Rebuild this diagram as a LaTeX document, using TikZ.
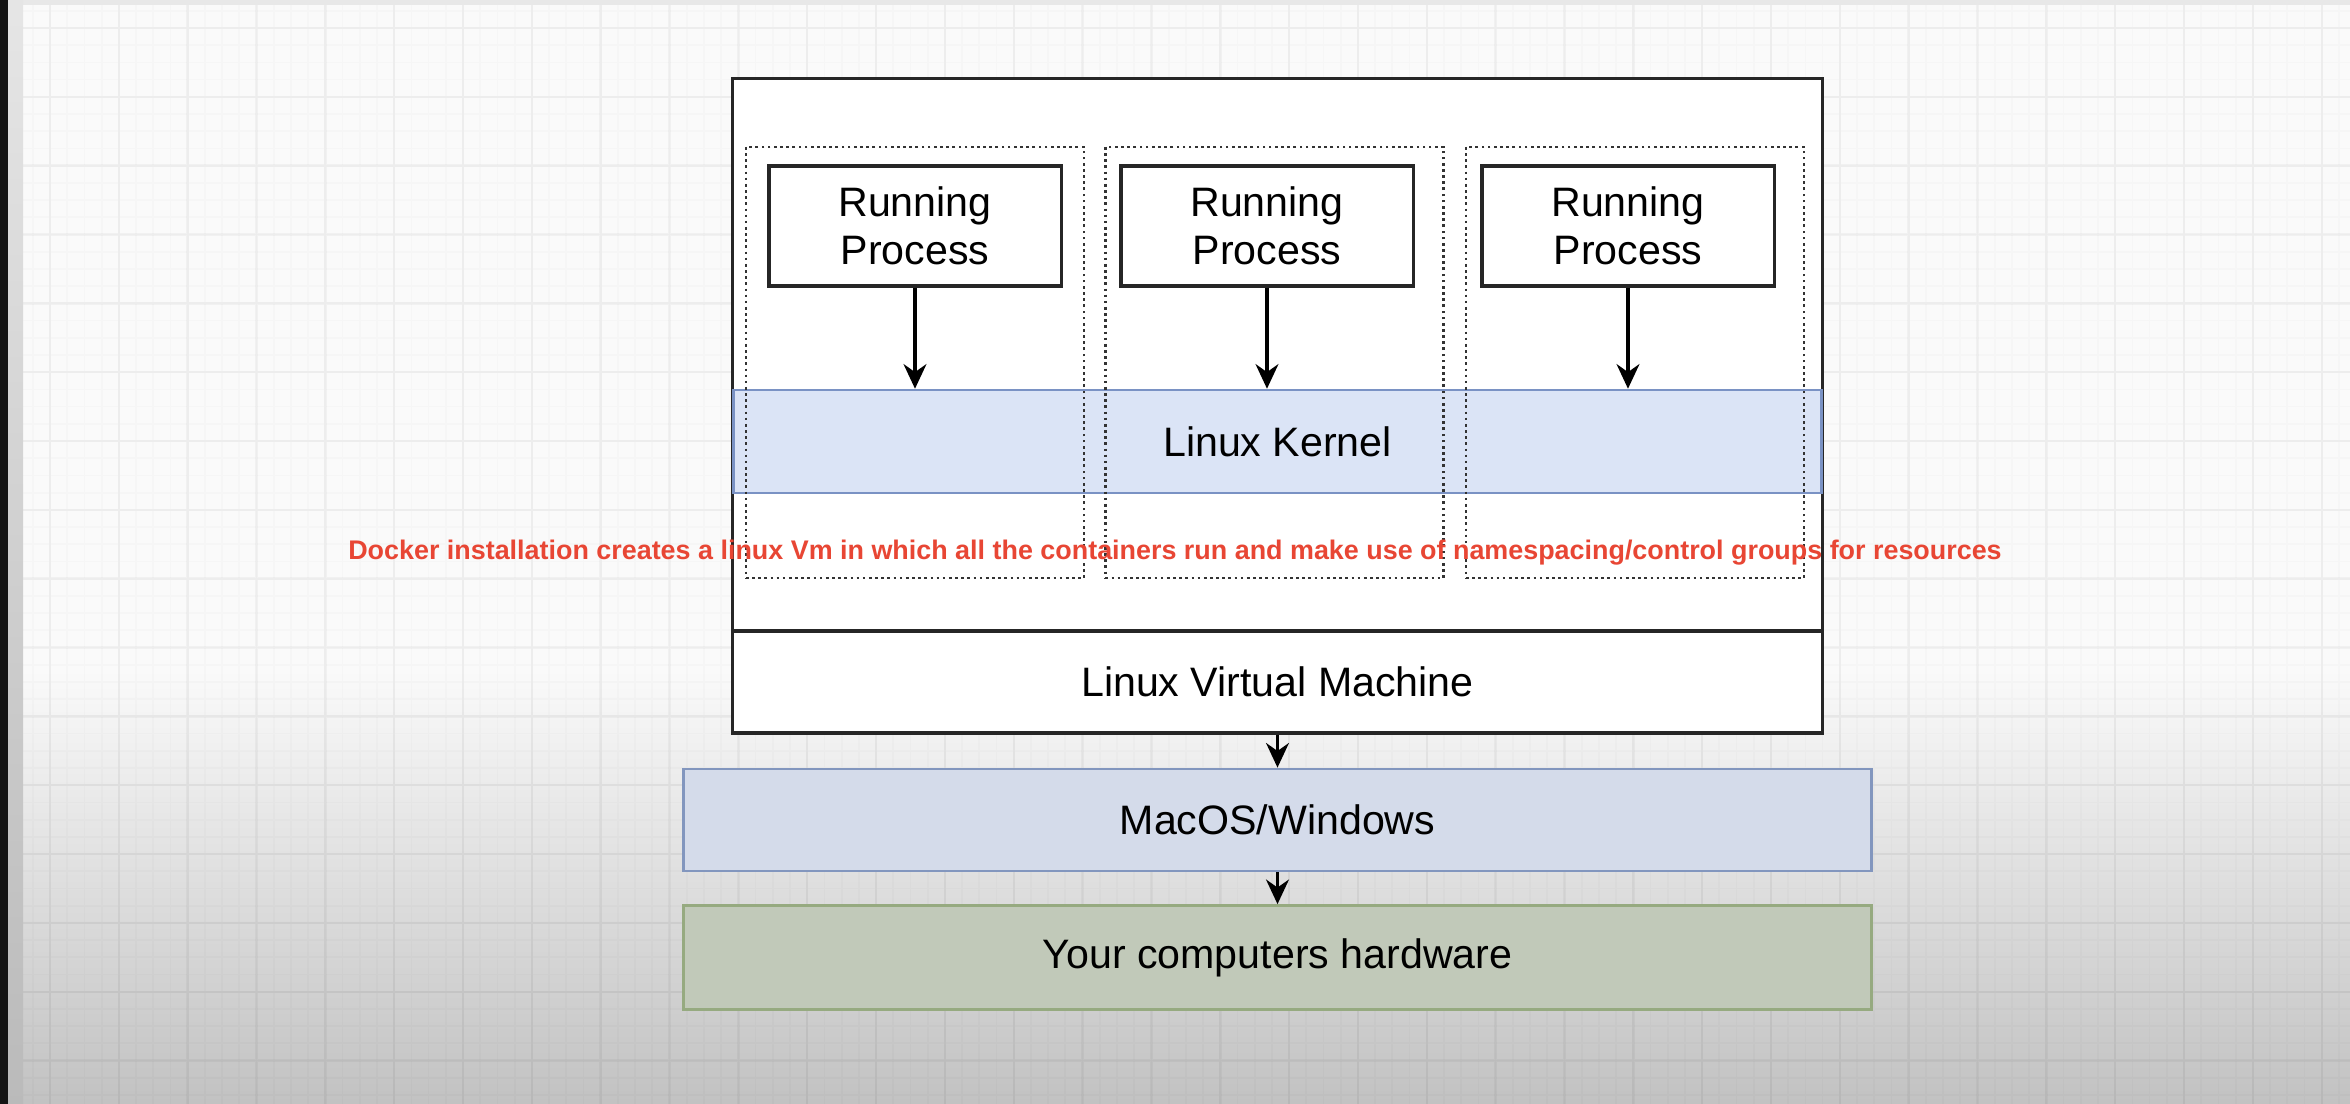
\documentclass[tikz,border=0pt]{standalone}
\usepackage{fontspec}
\setmainfont{Liberation Sans}
\usepackage{xcolor}
\usepackage{tikz}
\usetikzlibrary{arrows.meta, positioning}

\definecolor{kernelblue}{RGB}{219,228,246}
\definecolor{kernelline}{RGB}{122,146,196}
\definecolor{hostblue}{RGB}{212,219,234}
\definecolor{hostline}{RGB}{130,150,190}
\definecolor{hwgreen}{RGB}{193,201,185}
\definecolor{hwline}{RGB}{150,170,128}
\definecolor{notered}{RGB}{232,70,52}

\begin{document}
\begin{tikzpicture}[
    x=0.01cm, y=-0.01cm,
    every node/.style={font=\fontsize{11.7}{13.7}\selectfont},
    layer/.style={rectangle, draw=black!85, line width=0.9pt, minimum width=10.89cm, minimum height=1.02cm},
    band/.style={rectangle, line width=0.7pt, minimum width=11.87cm, minimum height=1.02cm},
    procbox/.style={rectangle, draw=black!85, fill=white, line width=0.9pt, minimum width=2.92cm, minimum height=1.2cm, align=center},
    container/.style={rectangle, draw=black!80, densely dotted, line width=0.75pt, minimum width=3.38cm, minimum height=4.31cm},
    arrow/.style={line width=0.9pt, -{Stealth[length=7pt, width=6.5pt]}},
    note/.style={text=notered, font=\bfseries\fontsize{7.65}{9}\selectfont}
]
\useasboundingbox (0,0) rectangle (2350,1104);

% Canvas
\fill[black!2] (0,0) rectangle (2350,1104);
\shade[top color=black!2, bottom color=black!24] (0,670) rectangle (2350,1104);
\begin{scope}[shift={(50,28)}]
  \draw[black, opacity=0.015, line width=0.5pt] (-27,-23) grid[step=0.172cm] (2300,1076);
  \draw[black, opacity=0.035, line width=0.7pt] (-27,-23) grid[step=0.688cm] (2300,1076);
\end{scope}
\fill[black!9] (8,0) rectangle (2350,5);
\shade[top color=black!10, bottom color=black!27] (8,0) rectangle (23,1104);
\fill[black!92] (0,0) rectangle (8,1104);

% Linux VM
\node[layer, fill=white, minimum height=6.54cm] (vm) at (1277.5,406) {};
\node[rectangle, fill=kernelblue, draw=kernelline, line width=0.7pt, minimum width=10.87cm, minimum height=1.03cm] (kernel) at (1277.5,441.5) {Linux Kernel};
\node[layer] (vmlabel) at (1277.5,682) {Linux Virtual Machine};

% Containers
\node[container] (box1) at (915,362.5) {};
\node[container] (box2) at (1274.5,362.5) {};
\node[container] (box3) at (1635,362.5) {};
\node[procbox] (proc1) at (915,226) {Running\\Process};
\node[procbox] (proc2) at (1267,226) {Running\\Process};
\node[procbox] (proc3) at (1628,226) {Running\\Process};

% Host
\node[band, fill=hostblue, draw=hostline, below=0.33cm of vmlabel] (host) {MacOS/Windows};
\node[band, fill=hwgreen, draw=hwline, minimum height=1.04cm, below=0.32cm of host] (hw) {Your computers hardware};

% Arrows
\draw[arrow] (proc1.south) -- (proc1.south |- kernel.north);
\draw[arrow] (proc2.south) -- (proc2.south |- kernel.north);
\draw[arrow] (proc3.south) -- (proc3.south |- kernel.north);
\draw[arrow] (vmlabel.south) -- (host.north);
\draw[arrow] (host.south) -- (hw.north);

% Note
\node[note] (note) at (1175,553) {Docker installation creates a linux Vm in which all the containers run and make use of namespacing/control groups for resources};

\end{tikzpicture}
\end{document}
